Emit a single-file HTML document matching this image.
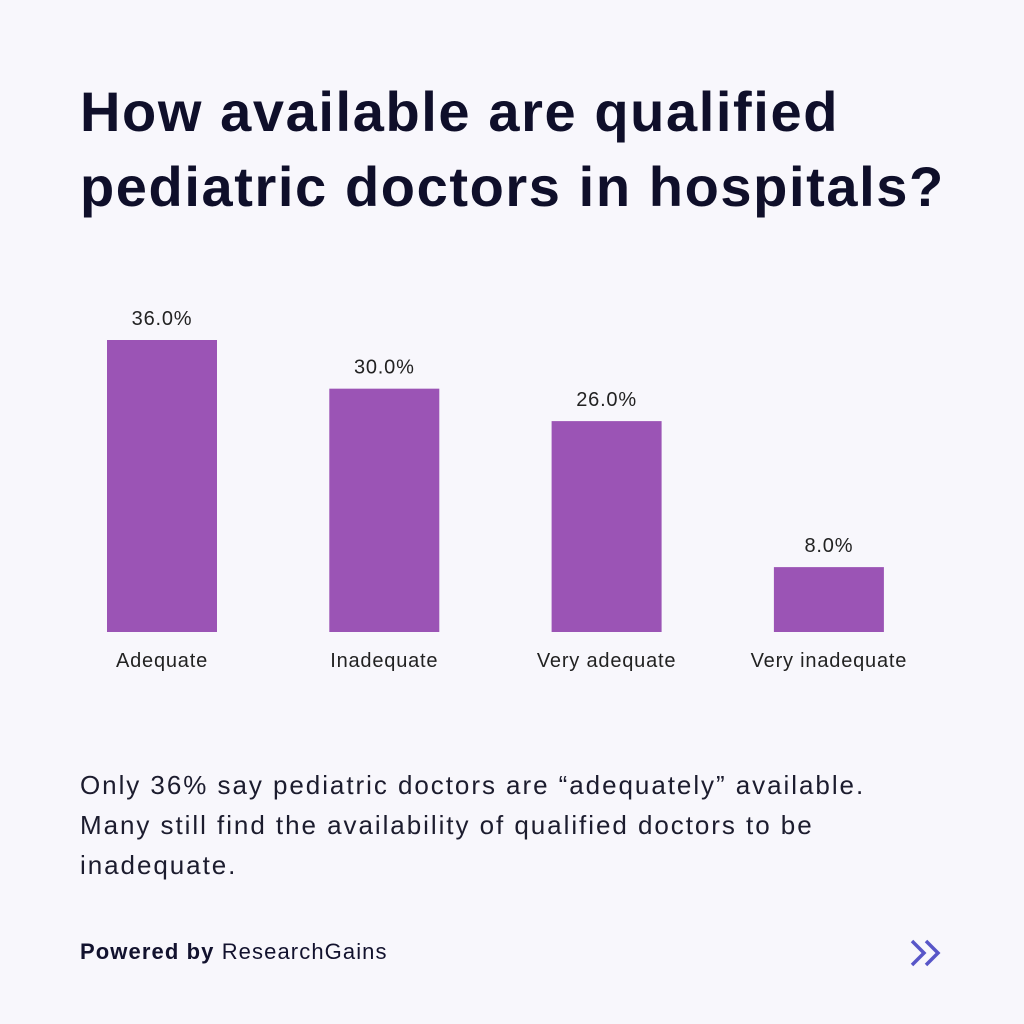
<!DOCTYPE html>
<html><head><meta charset="utf-8"><style>
body{margin:0;background:#f8f7fc;}
#page{position:relative;width:1024px;height:1024px;background:#f8f7fc;font-family:"Liberation Sans",sans-serif;color:#12122e;overflow:hidden}
h1{position:absolute;left:80px;top:74px;margin:0;font-size:56px;line-height:75px;font-weight:bold;letter-spacing:1.6px;color:#0f0f2a}
.desc{position:absolute;left:80px;top:765px;font-size:26px;line-height:40px;color:#1c1c2e;letter-spacing:1.95px}
.foot{position:absolute;left:80px;top:939px;font-size:22px;color:#12122e;letter-spacing:1.1px}
svg{position:absolute;left:0;top:0}
</style></head><body>
<div id="page">
<h1>How available are qualified<br>pediatric doctors in hospitals?</h1>
<svg id="chart" width="1024" height="700"></svg>
<div class="desc">Only 36% say pediatric doctors are “adequately” available.<br>Many still find the availability of qualified doctors to be<br>inadequate.</div>
<div class="foot"><b>Powered by</b> ResearchGains</div>
<svg width="40" height="40" style="left:908px;top:933px">
<polyline points="4,8 16,20 4,32" fill="none" stroke="#5856c8" stroke-width="3.5"/>
<polyline points="18,8 30,20 18,32" fill="none" stroke="#5856c8" stroke-width="3.5"/>
</svg>
</div>
<script>
const categories=["Adequate","Inadequate","Very adequate","Very inadequate"];
const values=[36.0,30.0,26.0,8.0];
const valueLabels=["36.0%","30.0%","26.0%","8.0%"];
const svg=document.getElementById('chart');
const NS='http://www.w3.org/2000/svg';
const baseY=632, pxPerPct=292/36;
const y=v=>baseY-v*pxPerPct;
const x0=107, step=222.3, bw=110;
const x=i=>x0+i*step;
categories.forEach((c,i)=>{
  const r=document.createElementNS(NS,'rect');
  r.setAttribute('x',x(i));r.setAttribute('y',y(values[i]));
  r.setAttribute('width',bw);r.setAttribute('height',baseY-y(values[i]));
  r.setAttribute('fill','#9b54b5');
  
  
  svg.appendChild(r);
  const t=document.createElementNS(NS,'text');
  t.setAttribute('x',x(i)+bw/2);t.setAttribute('y',y(values[i])-15);
  t.setAttribute('text-anchor','middle');t.setAttribute('font-size','20');t.setAttribute('fill','#222');
  t.setAttribute('letter-spacing','0.8');
  t.setAttribute('font-family','Liberation Sans, sans-serif');
  t.textContent=valueLabels[i];
  
  
  svg.appendChild(t);
  const l=document.createElementNS(NS,'text');
  l.setAttribute('x',x(i)+bw/2);l.setAttribute('y',667);
  l.setAttribute('text-anchor','middle');l.setAttribute('font-size','20');l.setAttribute('fill','#222');
  l.setAttribute('letter-spacing','0.8');
  l.setAttribute('font-family','Liberation Sans, sans-serif');
  l.textContent=c;
  
  
  svg.appendChild(l);
});
</script>
</body></html>
